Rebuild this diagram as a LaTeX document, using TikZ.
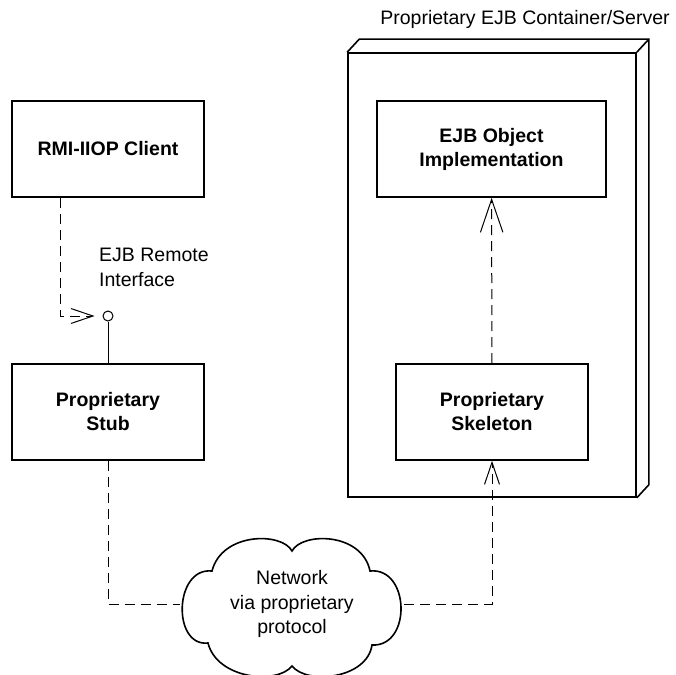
\documentclass[tikz,border=0pt]{standalone}
\usepackage{fontspec}
\setmainfont{Liberation Sans}
\usetikzlibrary{arrows.meta,positioning,calc}
\tikzset{
  comp/.style={draw,line width=1.6pt,minimum width=192pt,minimum height=96pt,inner sep=0pt,
               align=center,font=\bfseries\fontsize{19.5}{24}\selectfont},
  lbl/.style={font=\fontsize{19.5}{24.5}\selectfont,inner sep=0pt},
  dep/.style={draw,line width=1pt,dash pattern=on 10pt off 6pt},
  open/.style={-{Straight Barb[length=#1,width'=0pt .68,line width=1pt]}},
  open/.default=22pt,
}

\begin{document}
\begin{tikzpicture}[x=1pt,y=-1pt]
  \useasboundingbox (0,0) rectangle (676,674);
  % container with its 3d edge
  \node[draw,line width=1.6pt,minimum width=288pt,minimum height=444pt] (srv) at (492,275) {};
  \draw[line width=1.6pt] (srv.north west) -- ++(12,-13) -- ($(srv.north east)+(12,-13)$)
        -- ($(srv.south east)+(12,-13)$) -- (srv.south east);
  \draw[line width=1.6pt] (srv.north east) -- ++(12,-13);
  \node[lbl,anchor=base] (srvlbl) at (525,25) {Proprietary EJB Container/Server};
  % components
  \node[comp] (client) at (108,149) {RMI-IIOP Client};
  \node[comp] (stub) at (108,412) {Proprietary\\Stub};
  \node[comp,minimum width=229pt] (ejb) at (491.5,149) {EJB Object\\Implementation};
  \node[comp] (skel) at (492,412) {Proprietary\\Skeleton};
  \node[draw,circle,line width=1pt,minimum size=10pt,inner sep=0pt] (iface) at (108,316) {};
  \node[lbl,align=left,anchor=north west] (ifacelbl) at (99,248) {EJB Remote\\Interface};
  % network cloud
  \node[lbl,align=center,minimum width=224pt,minimum height=128pt] (net) at (292,604) {Network\\via proprietary\\protocol};
  \draw[line width=1.6pt,shift={(net.center)}]
    (0,-53) .. controls (-10,-72) and (-70,-72) .. (-80,-33)
    .. controls (-118,-37) and (-120,43) .. (-84,39)
    .. controls (-75,75) and (-15,81) .. (0,62)
    .. controls (15,81) and (75,75) .. (80,41)
    .. controls (120,43) and (118,-37) .. (78,-33)
    .. controls (70,-72) and (10,-72) .. cycle;
  % connectors
  \draw[dep,open,shorten >=8pt] ([xshift=-48pt]client.south) |- (iface.west);
  \draw[line width=1pt] (iface) -- (stub);
  \draw[dep] (stub.south) |- (net.west);
  \draw[dep,open] (net.east) -| (skel.south);
  \draw[dep,open=33pt] (skel) -- (ejb);
\end{tikzpicture}
\end{document}
